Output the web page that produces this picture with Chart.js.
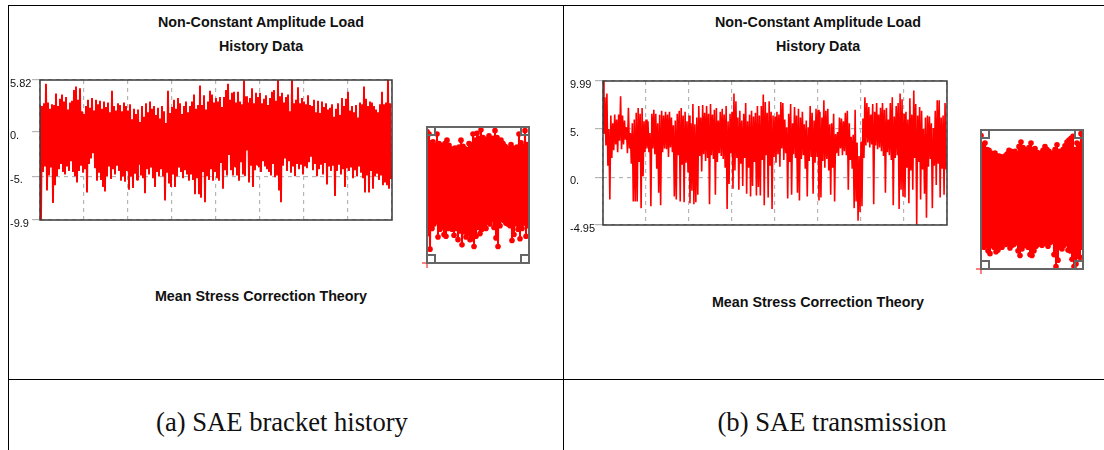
<!DOCTYPE html>
<html>
<head>
<meta charset="utf-8">
<title>Non-Constant Amplitude Load History Data</title>
<script src="https://cdn.jsdelivr.net/npm/chart.js@4"></script>
<style>
  html, body { margin: 0; padding: 0; background: #fff; }
  #stage { position: relative; width: 1104px; height: 450px; overflow: hidden; background: #fff; }
  #stage canvas { position: absolute; }
  .rule { position: absolute; background: #000; }
  .head { position: absolute; font: bold 14.3px "Liberation Sans", Arial, sans-serif; color: #111; white-space: nowrap; transform: translateX(-50%); }
  .caption { position: absolute; font: 26.6px "Liberation Serif", "Times New Roman", serif; color: #111; white-space: nowrap; transform: translateX(-50%); }
</style>
</head>
<body>
<div id="stage">
  <div class="rule" style="left:8px;top:5px;width:1096px;height:1px"></div>
  <div class="rule" style="left:8px;top:5px;width:1px;height:445px"></div>
  <div class="rule" style="left:563px;top:5px;width:1px;height:445px"></div>
  <div class="rule" style="left:8px;top:379px;width:1096px;height:1px"></div>

  <div class="head" style="left:261px;top:14px">Non-Constant Amplitude Load</div>
  <div class="head" style="left:261px;top:38px">History Data</div>
  <div class="head" style="left:261px;top:288px">Mean Stress Correction Theory</div>
  <div class="head" style="left:818px;top:14px">Non-Constant Amplitude Load</div>
  <div class="head" style="left:818px;top:38px">History Data</div>
  <div class="head" style="left:818px;top:294px">Mean Stress Correction Theory</div>
  <div class="caption" style="left:282px;top:407px">(a) SAE bracket history</div>
  <div class="caption" style="left:832px;top:407px">(b) SAE transmission</div>

  <canvas id="bracketMain" width="390" height="160" style="left:10px;top:70px"></canvas>
  <canvas id="bracketMini" width="125" height="160" style="left:415px;top:117px"></canvas>
  <canvas id="transMain" width="385" height="170" style="left:570px;top:71px"></canvas>
  <canvas id="transMini" width="125" height="160" style="left:969px;top:120px"></canvas>
</div>

<script>
// (a) SAE bracket history: peaks and troughs, 22 per grid division
var bracketUpper = [
  3.0,2.9,3.2,5.4,3.3,2.6,3.1,3.0,4.3,2.9,3.7,4.2,3.4,3.9,2.5,3.3,3.5,4.7,5.1,3.6,4.9,2.3,
  2.0,2.9,3.6,2.7,3.8,2.4,3.6,3.1,3.5,2.6,3.4,2.8,3.3,2.2,4.6,2.9,2.4,3.2,3.0,2.3,3.3,2.9,
  2.4,3.1,1.4,2.6,2.0,2.5,1.1,2.9,1.7,3.2,2.2,3.4,2.6,2.9,1.9,2.7,1.5,2.9,2.3,1.0,4.6,2.1,
  2.8,3.6,2.6,3.8,3.2,2.0,2.9,3.4,2.2,2.9,3.4,4.2,2.6,3.0,5.2,3.0,4.1,2.5,3.4,4.6,4.2,3.3,
  3.8,3.4,3.9,2.8,3.9,4.7,5.4,3.6,4.4,4.5,3.3,4.5,3.4,3.1,5.8,4.0,3.3,3.8,4.9,3.2,4.4,3.9,
  4.4,3.2,3.7,4.1,3.0,3.8,4.5,4.7,3.5,5.82,4.0,4.4,3.3,3.9,4.2,2.3,5.82,3.2,3.6,5.0,3.2,3.8,
  3.4,3.1,4.1,3.0,2.9,3.6,2.2,3.5,2.1,3.4,2.8,3.2,2.5,2.7,3.1,1.7,2.6,3.2,1.9,3.8,2.9,3.7,
  4.5,2.4,2.9,2.2,3.0,1.6,3.3,3.1,5.1,3.7,2.9,3.4,3.3,2.9,2.5,2.2,3.1,4.5,3.1,3.3,5.82,3.2
];
var bracketLower = [
  -9.9,-4.5,-3.9,-6.6,-4.9,-4.0,-8.0,-6.0,-5.0,-4.2,-3.6,-4.5,-4.8,-3.9,-4.4,-3.3,-4.5,-5.0,-5.7,-4.4,-3.8,-4.6,
  -4.2,-6.8,-3.6,-3.0,-2.4,-4.1,-5.5,-4.6,-5.4,-6.2,-6.7,-5.0,-3.9,-5.3,-4.2,-4.8,-3.8,-4.4,-5.5,-5.0,-5.6,-4.4,
  -6.5,-5.0,-6.3,-4.7,-5.4,-3.7,-4.9,-5.2,-6.9,-4.2,-4.8,-4.0,-5.2,-6.2,-4.5,-5.0,-4.2,-5.0,-7.7,-4.6,-5.8,-6.2,
  -4.8,-6.2,-5.0,-4.0,-4.5,-5.2,-4.3,-4.8,-5.5,-4.8,-5.4,-7.0,-5.2,-7.0,-7.4,-4.5,-7.9,-5.0,-5.4,-4.2,-5.5,-4.5,
  -5.2,-5.5,-3.5,-6.4,-4.3,-4.9,-2.6,-4.3,-4.9,-3.9,-4.9,-5.5,-3.4,-4.8,-5.0,-2.1,-5.7,-3.8,-6.2,-4.3,-3.7,-4.0,
  -4.5,-3.3,-3.9,-4.2,-4.5,-4.9,-3.6,-5.1,-4.9,-6.6,-7.9,-3.8,-3.0,-4.4,-3.3,-4.6,-3.9,-5.0,-3.6,-4.2,-3.7,-4.8,
  -3.9,-4.1,-3.4,-2.8,-4.3,-3.6,-5.0,-4.2,-3.7,-4.8,-3.5,-5.9,-3.9,-4.4,-3.8,-7.2,-4.4,-3.7,-4.8,-4.2,-6.2,-4.1,
  -4.4,-4.0,-5.2,-4.3,-5.0,-3.9,-4.6,-5.2,-6.8,-4.9,-6.8,-4.4,-6.4,-5.0,-4.7,-5.4,-4.9,-6.0,-5.7,-6.0,-6.4,-5.3
];
var bracketMiniUpper = [
  5.3,5.0,4.0,4.1,3.7,5.0,3.9,3.7,3.6,3.9,
  4.3,3.7,3.3,3.1,3.4,3.2,3.5,4.3,3.6,3.3,
  3.2,3.9,3.8,5.0,4.3,5.1,4.5,5.5,4.6,4.2,
  4.4,4.8,4.2,4.5,5.4,4.6,4.1,4.3,3.9,3.6,
  3.4,3.3,3.8,3.4,3.1,3.5,5.0,4.0,3.6,5.4,3.8
];
var bracketMiniLower = [
  -6.5,-8.3,-5.9,-5.4,-5.1,-6.9,-6.0,-5.7,-6.6,-6.8,
  -5.9,-5.5,-6.0,-6.7,-5.9,-7.2,-6.2,-7.8,-6.3,-6.9,
  -6.5,-7.2,-7.1,-8.0,-6.8,-5.8,-6.5,-6.0,-5.5,-5.9,
  -5.2,-5.4,-4.9,-5.8,-7.0,-8.0,-5.6,-4.9,-5.0,-5.3,
  -5.4,-5.6,-7.3,-6.6,-5.4,-6.0,-7.1,-5.9,-5.3,-6.8,-5.6
];
var bracketTicks = [-9.9, -5, 0, 5.82];
var bracketTickLabels = ['-9.9', '-5.', '0.', '5.82'];

// (b) SAE transmission
var transUpper = [
  9.99,8.3,8.7,5.0,6.4,5.6,6.5,6.0,6.5,8.4,6.4,5.9,5.2,7.2,4.6,5.6,6.0,6.7,7.2,6.6,7.2,5.8,
  6.0,5.8,4.6,6.6,7.0,6.6,5.6,6.5,6.9,6.4,6.8,6.5,6.8,6.2,5.4,5.9,6.6,6.9,7.2,6.4,6.8,5.8,
  6.4,5.6,7.6,5.5,6.2,7.4,6.2,7.5,6.7,7.4,6.6,7.6,6.5,7.0,7.2,5.9,6.8,7.1,6.5,7.4,5.8,6.6,
  6.8,8.7,7.9,6.2,6.9,5.9,6.6,7.7,5.8,6.5,6.9,6.3,6.7,7.4,6.4,7.4,8.6,7.8,6.7,7.9,6.8,6.4,
  6.3,6.8,6.5,7.8,7.7,6.0,5.2,6.6,7.6,5.6,7.3,6.4,7.1,6.2,6.8,5.5,5.9,5.2,7.4,6.7,5.9,7.1,
  7.0,6.8,6.2,8.0,6.9,7.1,5.5,5.6,6.6,4.5,4.7,6.2,6.1,5.8,6.7,6.9,5.6,4.2,4.4,7.0,3.6,2.2,
  3.7,6.1,8.3,7.7,7.3,6.5,7.6,6.8,7.7,6.5,7.2,7.7,7.0,7.2,6.0,7.7,8.3,6.3,7.4,7.7,8.7,8.1,
  6.6,6.8,6.0,8.2,6.5,9.0,7.6,6.4,7.3,6.9,5.0,6.2,6.4,6.3,5.6,5.1,6.9,8.0,8.0,6.2,6.4,7.7
];
var transLower = [
  4.5,3.3,1.2,-2.3,2.0,2.8,3.4,2.6,3.8,2.9,3.4,3.9,2.5,3.0,1.4,-2.5,-2.5,-2.5,1.6,-3.2,0.1,2.6,
  3.0,2.6,-3.0,3.0,2.4,0.9,-1.6,-2.9,2.6,3.0,2.9,2.1,3.1,2.6,-2.0,-2.3,2.3,-2.5,1.3,-2.6,1.5,0.5,
  -2.7,-1.4,-2.8,-2.6,-1.8,2.2,0.6,2.4,1.7,2.0,-2.8,2.3,1.9,-1.8,1.6,2.5,2.2,1.9,1.0,-3.3,-0.7,2.5,
  -1.2,0.7,2.0,-1.3,1.4,-0.9,2.0,-1.7,1.0,-2.0,-0.9,1.6,-1.9,-1.0,-1.9,1.8,-2.9,2.3,-2.1,1.2,-3.3,2.1,
  1.5,2.4,1.1,3.0,1.8,2.5,-2.2,1.6,-1.8,2.4,2.0,-1.6,-2.4,1.9,2.3,0.9,-2.0,1.7,2.1,-1.7,1.5,2.1,
  -2.4,-2.1,1.7,1.0,1.9,0.7,-1.8,1.0,-2.5,2.5,2.2,3.0,2.3,2.7,2.3,-1.3,1.8,0.9,-3.2,-2.5,-4.5,-3.6,
  -3.0,2.0,3.3,3.6,3.1,3.4,-2.8,3.3,2.9,3.1,2.7,2.2,-1.6,2.6,2.3,1.8,-2.9,2.0,2.3,-3.3,-1.3,-2.0,
  -2.1,1.0,-2.7,0.7,-1.3,2.0,-4.9,1.6,-2.3,0.8,-1.7,-4.2,1.1,1.9,-3.2,1.2,-0.8,1.4,-2.1,0.9,-1.8,0.8
];
var transMiniUpper = [
  9.4,8.4,8.6,7.9,7.8,7.5,7.4,7.5,7.2,7.2,
  7.1,7.0,7.2,7.4,7.8,7.7,7.5,7.7,7.4,8.2,
  8.7,8.1,7.9,7.6,8.1,8.6,7.9,8.0,7.6,7.2,
  7.5,7.8,8.2,7.9,7.7,7.4,7.5,7.9,8.4,7.7,
  7.6,7.9,8.3,8.7,8.9,9.1,9.3,7.9,8.6,8.4,9.6
];
var transMiniLower = [
  -2.5,-2.6,-2.4,-3.0,-3.3,-2.4,-2.6,-3.1,-2.9,-2.4,
  -2.6,-2.0,-2.3,-2.2,-2.7,-2.4,-2.3,-2.1,-3.0,-3.5,
  -2.8,-2.4,-2.2,-2.6,-3.4,-3.5,-3.0,-2.5,-2.3,-2.1,
  -2.4,-2.2,-2.0,-2.5,-2.1,-2.0,-3.4,-4.7,-4.0,-2.6,
  -2.8,-2.4,-2.2,-2.9,-3.0,-3.9,-4.7,-4.4,-3.6,-3.7,-2.6
];
var transTicks = [-4.95, 0, 5, 9.99];
var transTickLabels = ['-4.95', '0.', '5.', '9.99'];

var RED = '#ff0000';

// the history alternates peak, trough, peak, ...
function zigzag(upper, lower) {
  var points = [];
  var count = Math.min(upper.length, lower.length);
  for (var i = 0; i < count; i++) {
    points.push({ x: i, y: upper[i] });
    points.push({ x: i + 0.5, y: lower[i] });
  }
  return points;
}

var framePlugin = {
  id: 'frame',
  afterDatasetsDraw: function (chart, args, opts) {
    var area = chart.chartArea;
    var ctx = chart.ctx;
    ctx.save();
    ctx.strokeStyle = opts.color;
    ctx.lineWidth = opts.width;
    ctx.strokeRect(area.left, area.top, area.width, area.height);
    if (opts.handle) {
      var h = opts.handle;
      ctx.lineWidth = 2;
      ctx.strokeRect(area.left, area.top, h, h);
      ctx.strokeRect(area.right - h, area.top, h, h);
      ctx.strokeRect(area.left, area.bottom - h, h, h);
      ctx.strokeRect(area.right - h, area.bottom - h, h, h);
    }
    ctx.restore();
  },
};

function drawMain(id, upper, lower, ticks, tickLabels, padding, lineWidth) {
  var min = ticks[0];
  var max = ticks[ticks.length - 1];
  new Chart(document.getElementById(id), {
    type: 'line',
    data: {
      datasets: [{
        data: zigzag(upper, lower),
        borderColor: RED,
        borderWidth: lineWidth,
        borderJoinStyle: 'bevel',
        pointRadius: 0,
        tension: 0,
      }],
    },
    options: {
      responsive: false,
      animation: false,
      layout: { padding: padding },
      plugins: {
        legend: { display: false },
        tooltip: { enabled: false },
        frame: { color: '#3a3a3a', width: 1.5 },
      },
      scales: {
        x: {
          type: 'linear',
          min: 0,
          max: 176,
          border: { display: false, dash: [4, 4] },
          grid: { color: '#b5b5b5', lineWidth: 1.2, drawTicks: false, tickLength: 0 },
          ticks: { display: false, stepSize: 22 },
        },
        y: {
          min: min,
          max: max,
          border: { display: false, dash: [4, 4] },
          grid: { color: '#b5b5b5', lineWidth: 1.2, tickLength: 8, tickBorderDash: [] },
          afterBuildTicks: function (scale) {
            scale.ticks = ticks.map(function (v) { return { value: v }; });
          },
          afterFit: function (scale) { scale.width = padding.axis; },
          ticks: {
            autoSkip: false,
            crossAlign: 'far',
            padding: 0,
            labelOffset: 4,
            color: '#111',
            font: { family: '"Liberation Sans", Arial, sans-serif', size: 11 },
            callback: function (value, index) { return tickLabels[index]; },
          },
        },
      },
    },
    plugins: [framePlugin],
  });
}

function drawMini(id, upper, lower, min, max, padding) {
  new Chart(document.getElementById(id), {
    type: 'line',
    data: {
      datasets: [
        {
          data: zigzag(upper, lower),
          borderColor: RED,
          backgroundColor: RED,
          borderWidth: 2,
          borderJoinStyle: 'bevel',
          pointRadius: 2.8,
          pointBorderWidth: 0,
          tension: 0,
        },
        {
          // red cross at the origin of the overview
          data: [{ x: 0, y: min }],
          showLine: false,
          pointStyle: 'cross',
          pointRadius: 5,
          pointBorderWidth: 1,
          pointBorderColor: RED,
          clip: false,
        },
      ],
    },
    options: {
      responsive: false,
      animation: false,
      layout: { padding: padding },
      plugins: {
        legend: { display: false },
        tooltip: { enabled: false },
        frame: { color: '#666666', width: 2, handle: 8 },
      },
      scales: {
        x: { type: 'linear', min: 0, max: 51, display: false },
        y: { min: min, max: max, display: false },
      },
    },
    plugins: [framePlugin],
  });
}

drawMain('bracketMain', bracketUpper, bracketLower, bracketTicks, bracketTickLabels,
  { left: 0, right: 8, top: 10, bottom: 10, axis: 30 }, 1.9);
drawMain('transMain', transUpper, transLower, transTicks, transTickLabels,
  { left: 0, right: 8, top: 10, bottom: 16, axis: 33 }, 1.6);
drawMini('bracketMini', bracketMiniUpper, bracketMiniLower, -9.9, 5.82,
  { left: 12, right: 11, top: 10, bottom: 14 });
drawMini('transMini', transMiniUpper, transMiniLower, -4.95, 9.99,
  { left: 12, right: 11, top: 10, bottom: 11 });
</script>
</body>
</html>
